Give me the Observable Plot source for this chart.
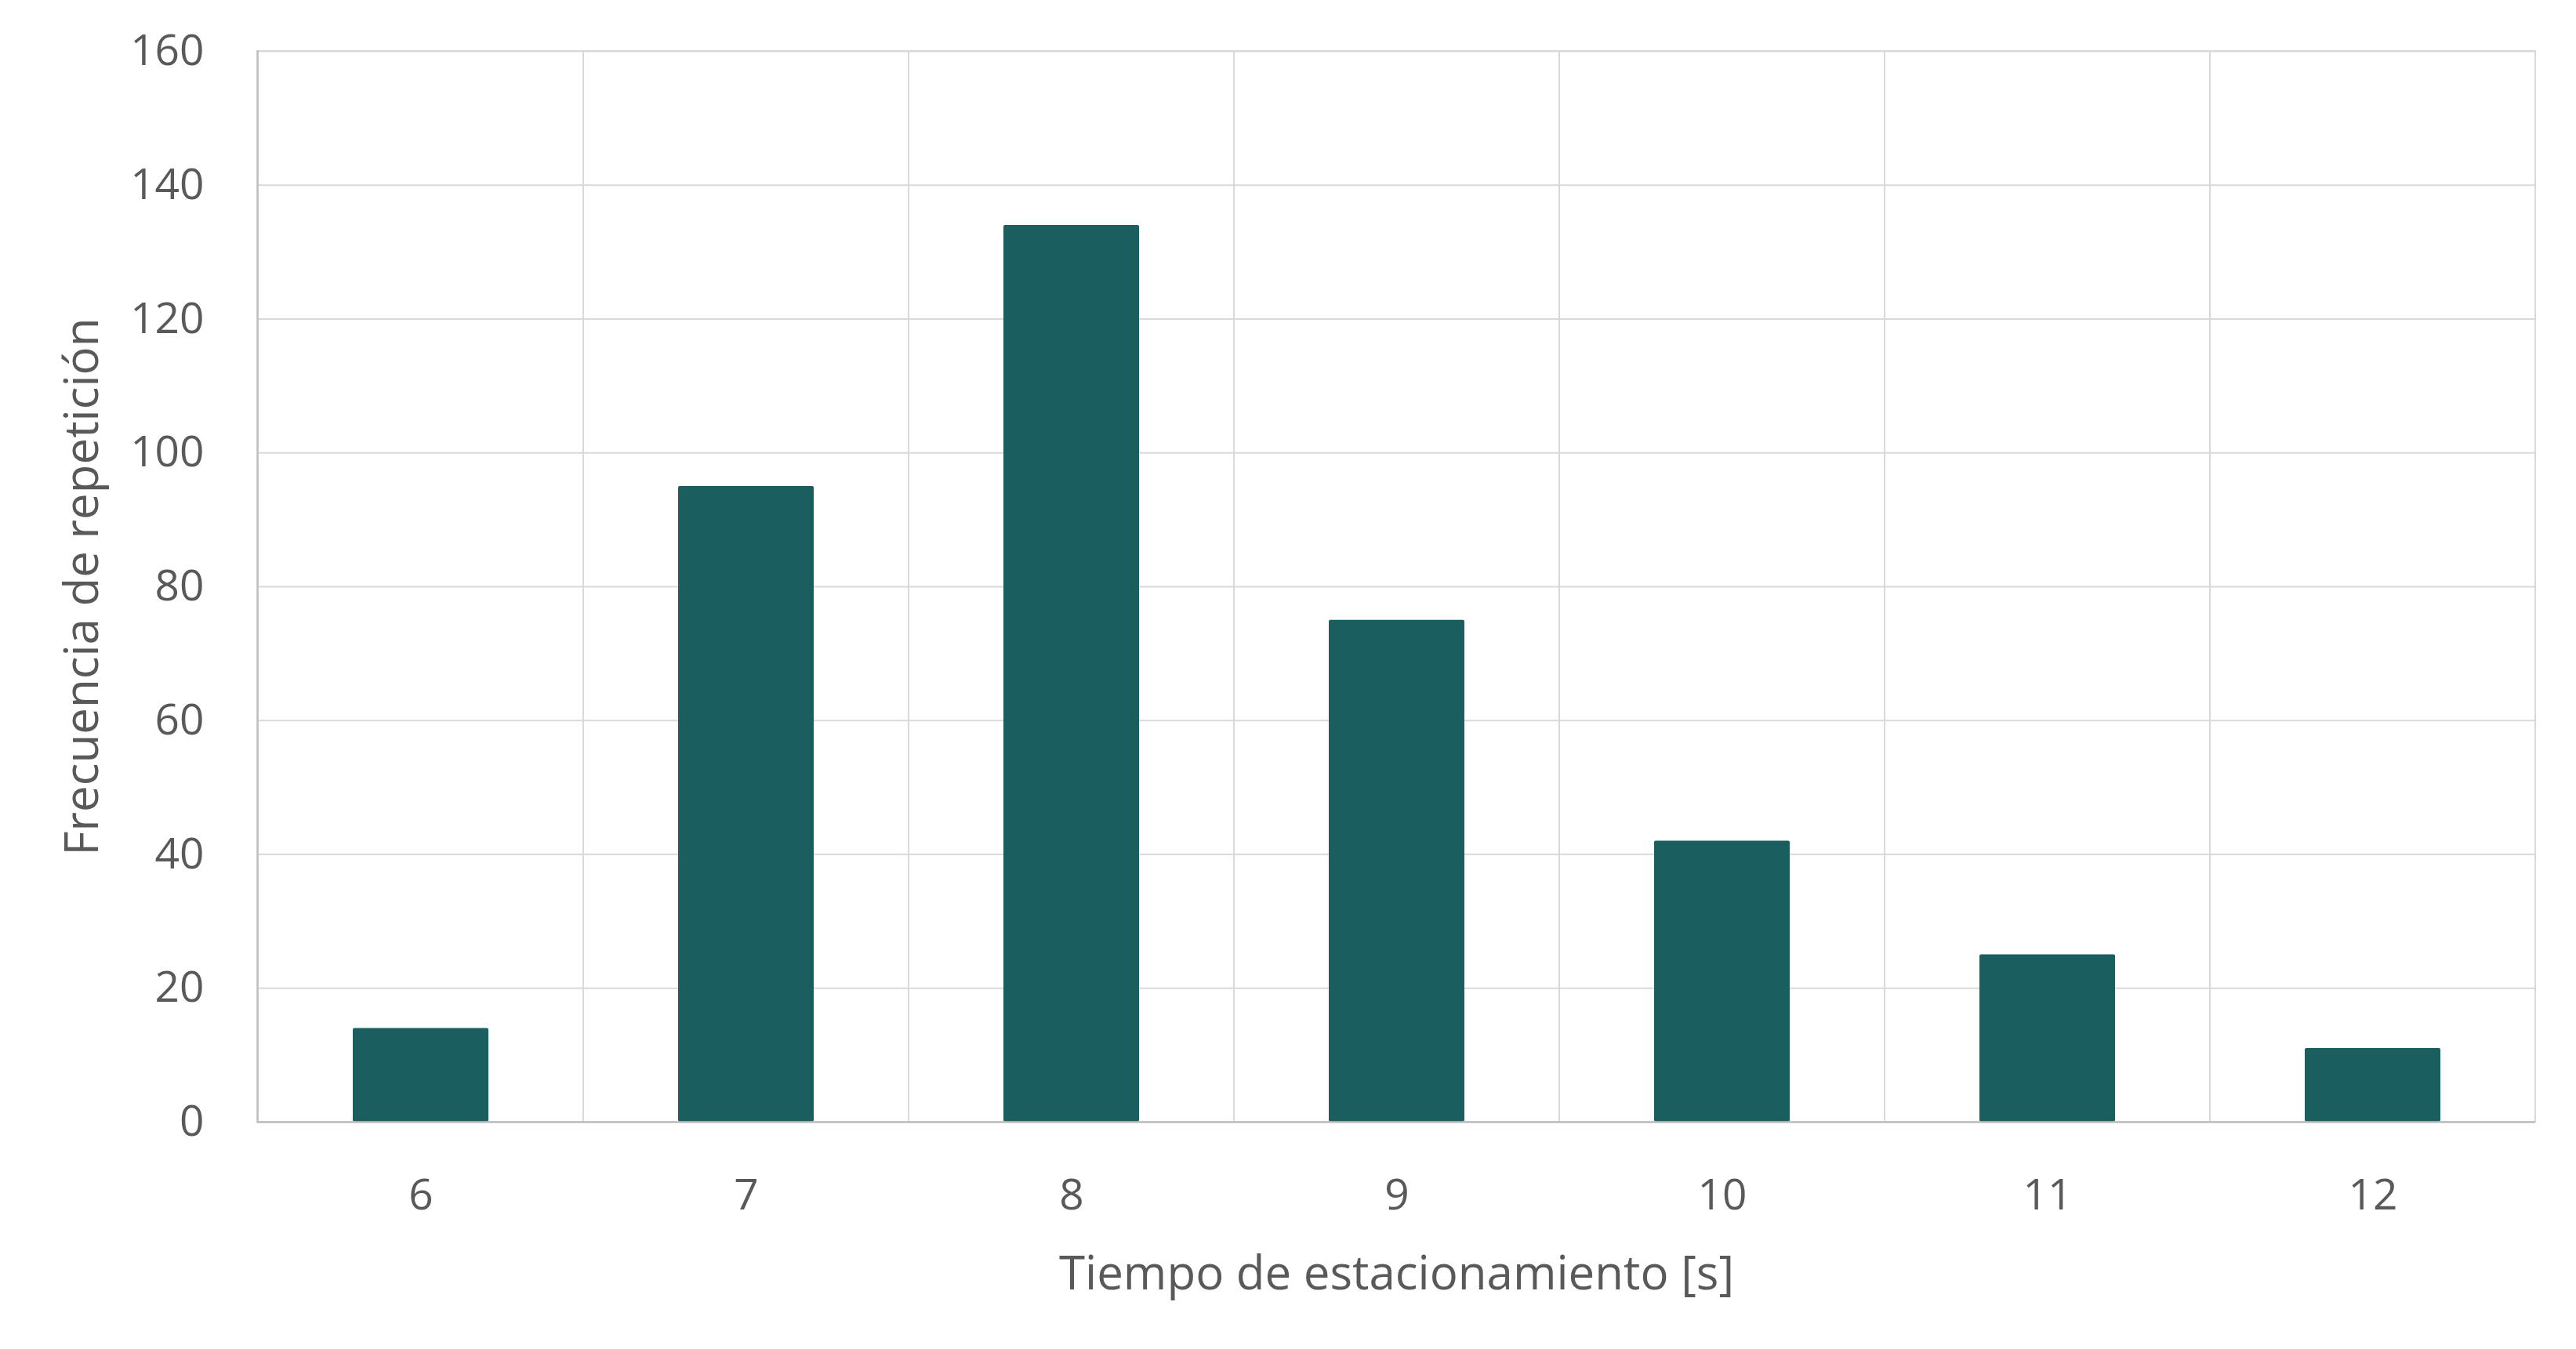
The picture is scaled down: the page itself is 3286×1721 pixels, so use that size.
<!DOCTYPE html>
<html>
<head>
<meta charset="utf-8">
<script src="https://cdn.jsdelivr.net/npm/d3@7"></script>
<script src="https://cdn.jsdelivr.net/npm/@observablehq/plot@0.6"></script>
<style>
  body { margin: 0; background: #fff; }
</style>
</head>
<body>
<div id="chart"></div>
<script>
// parking time histogram
const tiempos = [6, 7, 8, 9, 10, 11, 12];
const frecuencias = [14, 95, 134, 75, 42, 25, 11];
const yTicks = [0, 20, 40, 60, 80, 100, 120, 140, 160];
const xTitle = "Tiempo de estacionamiento [s]";
const yTitle = "Frecuencia de repetición";

const W = 3286, H = 1721;
const mLeft = 328, mRight = 52, mTop = 65, mBottom = 290;
const barColor = "#1b5e5f";
const gridColor = "#d9d9d9";
const axisColor = "#bfbfbf";
const textColor = "#595959";

var data = tiempos.map((t, i) => ({t: t, n: frecuencias[i]}));

// excel style gap width (~140%) -> bar takes ~42% of the band
const band = (W - mLeft - mRight) / tiempos.length;
const inset = band * (1 - 0.417) / 2;

const chart = Plot.plot({
  width: W,
  height: H,
  marginLeft: mLeft,
  marginRight: mRight,
  marginTop: mTop,
  marginBottom: mBottom,
  style: {fontFamily: "'Open Sans', sans-serif", color: textColor, background: "#fff"},
  x: {type: "band", domain: tiempos, padding: 0},
  y: {domain: [0, 160]},
  marks: [
    Plot.gridY(yTicks, {stroke: gridColor, strokeOpacity: 1, strokeWidth: 2}),
    // vertical grid on the category boundaries
    Plot.cell(tiempos, {x: d => d, fill: "none", stroke: gridColor, strokeWidth: 2}),
    Plot.barY(data, {x: "t", y: "n", fill: barColor, insetLeft: inset, insetRight: inset, rx: 2}),
    Plot.ruleY([0], {stroke: axisColor, strokeWidth: 2.5}),
    Plot.frame({anchor: "left", stroke: axisColor, strokeWidth: 2.5}),
    Plot.axisY(yTicks, {tickSize: 0, tickPadding: 68, fontSize: 55, fill: textColor, label: null}),
    Plot.axisX(tiempos, {tickSize: 0, tickPadding: 72, fontSize: 55, fill: textColor, label: null}),
    Plot.text([xTitle], {frameAnchor: "bottom", dy: 194, fontSize: 60, fill: textColor, lineAnchor: "middle"}),
    Plot.text([yTitle], {frameAnchor: "left", dx: -223, rotate: -90, textAnchor: "middle", fontSize: 60, fill: textColor, lineAnchor: "middle"})
  ]
});

document.getElementById("chart").append(chart);
</script>
</body>
</html>
